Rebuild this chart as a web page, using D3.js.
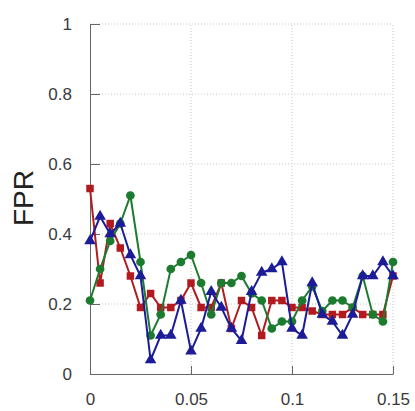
<!DOCTYPE html>
<html>
<head>
<meta charset="utf-8">
<script src="https://cdn.jsdelivr.net/npm/d3@7"></script>
<style>
  body { margin: 0; background: #fff; }
  svg { display: block; }
</style>
</head>
<body>
<div id="chart"></div>
<script>
const xValues = d3.range(31).map(i => +(i * 0.005).toFixed(3));

const redSeries = [0.53, 0.26, 0.43, 0.36, 0.28, 0.19, 0.23, 0.19, 0.19, 0.21, 0.26, 0.19, 0.19, 0.26, 0.13, 0.21,
    0.19, 0.11, 0.21, 0.21, 0.19, 0.19, 0.18, 0.17, 0.17, 0.17, 0.19, 0.17, 0.17, 0.17, 0.28];
const greenSeries = [0.21, 0.30, 0.38, 0.43, 0.51, 0.32, 0.11, 0.17, 0.30, 0.32, 0.34, 0.26, 0.17, 0.26, 0.26, 0.28,
    0.23, 0.21, 0.13, 0.15, 0.15, 0.21, 0.25, 0.18, 0.21, 0.21, 0.19, 0.28, 0.17, 0.15, 0.32];
const blueSeries = [0.38, 0.45, 0.40, 0.43, 0.34, 0.28, 0.04, 0.11, 0.11, 0.21, 0.065, 0.13, 0.235, 0.19, 0.13, 0.095,
    0.235, 0.29, 0.30, 0.32, 0.13, 0.11, 0.26, 0.17, 0.15, 0.11, 0.17, 0.28, 0.28, 0.32, 0.28];

const xTicks = [0, 0.05, 0.1, 0.15];
const yTicks = [0, 0.2, 0.4, 0.6, 0.8, 1];

const series = [
    { name: "red", values: redSeries, color: "#b31a1f", shape: d3.symbolSquare, size: 56 },
    { name: "green", values: greenSeries, color: "#1d7b30", shape: d3.symbolCircle, size: 60 },
    { name: "blue", values: blueSeries, color: "#1c1c98", shape: d3.symbolTriangle, size: 58 }
];

const W = 415, H = 411;
const x = d3.scaleLinear().domain([0, 0.15]).range([90, 393]);
const y = d3.scaleLinear().domain([0, 1]).range([374, 24]);

const svg = d3.select("#chart").append("svg")
    .attr("width", W)
    .attr("height", H);

// grid
svg.append("g").selectAll("line")
    .data(yTicks.filter(d => d > 0))
    .enter().append("line")
    .attr("x1", x(0)).attr("x2", x(0.15))
    .attr("y1", d => y(d)).attr("y2", d => y(d))
    .attr("stroke", "#c8c8c8")
    .attr("stroke-dasharray", "1,2");

svg.append("g").selectAll("line")
    .data(xTicks.filter(d => d > 0))
    .enter().append("line")
    .attr("x1", d => x(d)).attr("x2", d => x(d))
    .attr("y1", y(0)).attr("y2", y(1))
    .attr("stroke", "#c8c8c8")
    .attr("stroke-dasharray", "1,2");

// axes
const yAxis = svg.append("g")
    .attr("transform", `translate(${x(0)},0)`)
    .call(d3.axisLeft(y).tickValues(yTicks).tickFormat(d3.format("~g"))
        .tickSizeInner(-10).tickSizeOuter(0).tickPadding(18));

const xAxis = svg.append("g")
    .attr("transform", `translate(0,${y(0)})`)
    .call(d3.axisBottom(x).tickValues(xTicks).tickFormat(d3.format("~g"))
        .tickSizeInner(-8).tickSizeOuter(0).tickPadding(19));

[xAxis, yAxis].forEach(a => {
    a.select(".domain").attr("stroke", "#666");
    a.selectAll(".tick line").attr("stroke", "#666");
    a.selectAll("text")
        .style("font-family", "'Liberation Sans', Arial, sans-serif")
        .style("font-size", "17px")
        .attr("fill", "#3a3a3a");
});

// series
const line = d3.line()
    .x((d, i) => x(xValues[i]))
    .y(d => y(d));

series.forEach(s => {
    svg.append("path")
        .datum(s.values)
        .attr("fill", "none")
        .attr("stroke", s.color)
        .attr("stroke-width", 2)
        .attr("d", line);

    svg.append("g").selectAll("path")
        .data(s.values)
        .enter().append("path")
        .attr("transform", (d, i) => `translate(${x(xValues[i])},${y(d)})`)
        .attr("d", d3.symbol().type(s.shape).size(s.size))
        .attr("fill", s.color);
});

// y label
svg.append("text")
    .attr("transform", "translate(33,198) rotate(-90)")
    .attr("text-anchor", "middle")
    .style("font-family", "'Liberation Sans', Arial, sans-serif")
    .style("font-size", "28px")
    .attr("fill", "#222")
    .text("FPR");
</script>
</body>
</html>
